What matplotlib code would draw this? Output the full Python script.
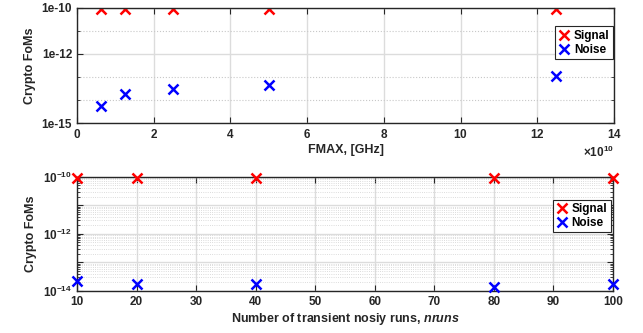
import matplotlib
matplotlib.use("Agg")
import matplotlib.pyplot as plt
from matplotlib.ticker import FixedLocator, FuncFormatter, ScalarFormatter, LogLocator, NullFormatter
import numpy as np

plt.rcParams['font.family'] = ['Liberation Sans', 'DejaVu Sans']
plt.rcParams['font.weight'] = 'bold'
plt.rcParams['mathtext.fontset'] = 'custom'
plt.rcParams['mathtext.rm'] = 'Liberation Sans'
plt.rcParams['mathtext.it'] = 'Liberation Sans:italic:bold'
plt.rcParams['mathtext.bf'] = 'Liberation Sans:bold'

# Top panel data
fmax = [0.625e10, 1.25e10, 2.5e10, 5e10, 12.5e10]
top_signal = [9e-11, 9e-11, 9e-11, 9e-11, 9e-11]
top_noise = [5.5e-15, 1.8e-14, 3.0e-14, 4.7e-14, 1.1e-13]

# Bottom panel data
nruns = [10, 20, 40, 80, 100]
bot_signal = [8.8e-11, 8.8e-11, 8.8e-11, 8.8e-11, 8.8e-11]
bot_noise = [2.2e-14, 1.7e-14, 1.8e-14, 1.4e-14, 1.7e-14]

top_yticks = [1e-15, 1e-12, 1e-10]
top_ytick_labels = ['1e-15', '1e-12', '1e-10']
top_yminor = [1e-14, 1e-13, 1e-11]

fig = plt.figure(figsize=(6.43, 3.33), dpi=100)
W, H = 643, 333

grid_col = '#dcdcdc'
spine_col = '#262626'
ms = 7
mew = 1.8

def style(ax):
    for s in ax.spines.values():
        s.set_color(spine_col)
        s.set_linewidth(1.0)
    ax.tick_params(which='both', direction='in', top=True, right=True, colors=spine_col,
                   labelsize=8.5, labelcolor='#262626')
    ax.tick_params(which='major', length=4, width=0.8)
    ax.tick_params(which='minor', length=2, width=0.6)
    ax.set_axisbelow(True)

def legend(ax, anchor):
    leg = ax.legend(loc='upper right', bbox_to_anchor=anchor, fontsize=8.5, frameon=True,
                    fancybox=False, edgecolor='#262626', handlelength=0.9, handletextpad=0.4,
                    borderpad=0.3, labelspacing=0.15, borderaxespad=0, framealpha=1)
    leg.get_frame().set_linewidth(0.8)
    return leg

# Top axes
ax1 = fig.add_axes([77/W, 1-123/H, (614-77)/W, 115/H])
ax1.plot(fmax, top_signal, 'x', color='red', ms=ms, mew=mew, label='Signal')
ax1.plot(fmax, top_noise, 'x', color='blue', ms=ms, mew=mew, label='Noise')
ax1.set_yscale('log')
ax1.set_ylim(1e-15, 1e-10)
ax1.set_xlim(0, 14e10)
ax1.yaxis.set_major_locator(FixedLocator(top_yticks))
ax1.yaxis.set_major_formatter(FuncFormatter(lambda v, p: top_ytick_labels[top_yticks.index(min(top_yticks, key=lambda t: abs(np.log10(t)-np.log10(v))))]))
ax1.yaxis.set_minor_locator(FixedLocator(top_yminor))
ax1.yaxis.set_minor_formatter(NullFormatter())
ax1.set_xticks(np.arange(0, 14.01e10, 2e10))
sf = ScalarFormatter(useMathText=True)
sf.set_powerlimits((10, 10))
ax1.xaxis.set_major_formatter(sf)
ax1.xaxis.get_offset_text().set_fontsize(8.5)
ax1.xaxis.get_offset_text().set_color('#262626')
ax1.grid(which='major', color=grid_col, linewidth=1.0, linestyle='-')
ax1.grid(which='minor', axis='y', color='#c8c8c8', linewidth=0.8, linestyle=':')
style(ax1)
ax1.set_xlabel('FMAX, [GHz]', fontsize=9, fontweight='bold', color='#262626', labelpad=2)
ax1.set_ylabel('Crypto FoMs', fontsize=9, fontweight='bold', color='#262626')
legend(ax1, (0.998, 0.84))

# Bottom axes
ax2 = fig.add_axes([77/W, 1-291/H, (613-77)/W, 114.3/H])
ax2.plot(nruns, bot_signal, 'x', color='red', ms=ms, mew=mew, label='Signal', clip_on=False, zorder=5)
ax2.plot(nruns, bot_noise, 'x', color='blue', ms=ms, mew=mew, label='Noise', clip_on=False, zorder=5)
ax2.set_yscale('log')
ax2.set_ylim(1e-14, 1e-10)
ax2.set_xlim(10, 100)
ax2.set_xticks(np.arange(10, 101, 10))
ax2.yaxis.set_major_locator(LogLocator(base=10, numticks=10))
ax2.yaxis.set_major_formatter(FuncFormatter(
    lambda v, p: (r'$10^{%d}$' % int(round(np.log10(v)))) if int(round(np.log10(v))) % 2 == 0 else ''))
ax2.yaxis.set_minor_locator(LogLocator(base=10, subs=np.arange(2, 10), numticks=20))
ax2.yaxis.set_minor_formatter(NullFormatter())
ax2.grid(which='major', color=grid_col, linewidth=1.0, linestyle='-')
ax2.grid(which='minor', axis='y', color='#d0d0d0', linewidth=0.6, linestyle=':')
style(ax2)
ax2.set_xlabel(r'Number of transient nosiy runs, $\mathit{nruns}$', fontsize=9, fontweight='bold',
               color='#262626', labelpad=2)
ax2.set_ylabel('Crypto FoMs', fontsize=9, fontweight='bold', color='#262626')
legend(ax2, (0.996, 0.80))

fig.savefig('out.png', dpi=100)
